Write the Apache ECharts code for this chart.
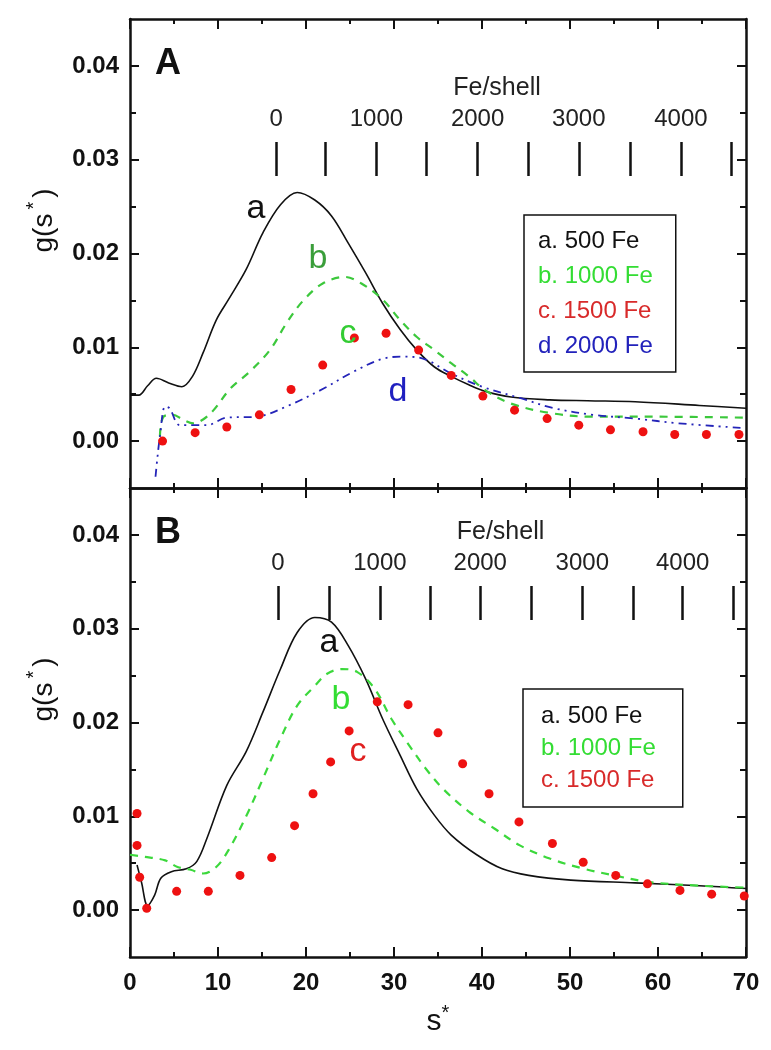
<!DOCTYPE html>
<html>
<head>
<meta charset="utf-8">
<script src="https://cdn.jsdelivr.net/npm/echarts@6/dist/echarts.min.js"></script>
<style>
html,body{margin:0;padding:0;background:#fff;}
#chart{width:771px;height:1050px;}
</style>
</head>
<body>
<div id="chart"></div>
<script>
// ---------- Data (g values in units of 0.001) ----------
// Panel A
var sA_a = [0, 1.0, 2.0, 3.0, 4.4, 5.9, 7.1, 8.3, 9.8, 11.2, 13.2, 15.1, 17.1, 19.0, 21.0, 22.9, 24.8, 26.8, 28.7, 30.7, 32.6, 34.6, 36.5, 38.5, 40.4, 43.3, 47.7, 52.0, 57.4, 64.7, 70];
var gA_a = [4.9, 4.9, 5.9, 6.7, 6.2, 5.8, 6.9, 9.4, 12.9, 15.1, 18.3, 22.2, 25.2, 26.5, 25.7, 24.0, 21.1, 17.9, 14.7, 11.9, 9.7, 7.9, 6.9, 6.0, 5.3, 4.7, 4.4, 4.3, 4.2, 3.8, 3.5];
var sA_b = [3.4, 3.8, 4.9, 6.0, 7.2, 8.3, 9.5, 11.4, 13.6, 15.9, 17.8, 19.7, 21.9, 24.4, 26.3, 28.7, 30.7, 32.6, 34.6, 36.5, 38.5, 40.4, 43.3, 47.7, 52.6, 59.9, 70];
var gA_b = [0.5, 2.6, 2.8, 2.3, 1.9, 2.3, 3.3, 5.6, 7.4, 9.7, 12.6, 15.0, 16.8, 17.5, 16.8, 15.1, 12.9, 11.1, 9.7, 8.3, 6.9, 5.4, 4.0, 3.0, 2.6, 2.6, 2.5];
var sA_c = [3.7, 7.4, 11.0, 14.7, 18.3, 21.9, 25.5, 29.1, 32.8, 36.5, 40.1, 43.7, 47.4, 51.0, 54.6, 58.3, 61.9, 65.5, 69.2];
var gA_c = [0.0, 0.9, 1.5, 2.8, 5.5, 8.1, 11.0, 11.5, 9.7, 7.0, 4.8, 3.3, 2.4, 1.7, 1.2, 1.0, 0.7, 0.7, 0.7];
var sA_d = [2.9, 3.1, 3.4, 4.0, 4.5, 5.7, 8.7, 11.0, 14.4, 17.8, 22.0, 25.4, 28.8, 31.1, 33.3, 36.5, 40.0, 44.3, 48.2, 52.6, 57.5, 62.3, 69.6];
var gA_d = [-3.8, -1.9, 0.5, 3.7, 3.5, 1.7, 1.7, 2.5, 2.6, 3.7, 5.6, 7.4, 8.8, 9.0, 8.8, 7.2, 5.8, 4.6, 3.5, 2.8, 2.4, 1.9, 1.4];
// Panel B
var sB_a = [0.8, 1.3, 2.0, 2.8, 3.5, 4.7, 6.4, 7.6, 8.8, 11.0, 13.2, 15.1, 17.1, 19.0, 21.0, 22.9, 24.8, 26.8, 28.7, 30.7, 32.6, 34.6, 36.5, 39.4, 42.3, 45.3, 50.1, 57.4, 64.7, 70];
var gB_a = [4.8, 3.0, 0.5, 1.6, 3.4, 4.1, 4.4, 5.2, 7.8, 13.3, 16.9, 21.1, 25.7, 29.6, 31.2, 30.7, 28.2, 24.6, 20.4, 16.5, 12.9, 10.1, 8.0, 5.9, 4.4, 3.7, 3.2, 2.9, 2.6, 2.3];
var sB_b = [0, 1.5, 4.0, 5.4, 6.9, 8.3, 9.8, 11.2, 13.2, 15.1, 17.1, 19.0, 21.0, 22.4, 24.1, 25.8, 27.8, 29.7, 31.7, 33.6, 35.6, 38.5, 41.4, 44.3, 47.7, 51.6, 55.0, 58.9, 64.7, 70];
var gB_b = [5.9, 5.7, 5.3, 4.6, 4.3, 3.9, 4.6, 6.4, 10.0, 14.0, 18.3, 21.8, 23.9, 25.2, 25.7, 25.4, 23.6, 20.4, 17.6, 15.1, 12.9, 10.5, 8.7, 6.9, 5.5, 4.4, 3.7, 3.0, 2.6, 2.4];
var sB_c = [0.8, 0.8, 1.1, 1.9, 5.3, 8.9, 12.5, 16.1, 18.7, 20.8, 22.8, 24.9, 28.1, 31.6, 35.0, 37.8, 40.8, 44.2, 48.0, 51.5, 55.2, 58.8, 62.5, 66.1, 69.8];
var gB_c = [10.3, 6.9, 3.5, 0.2, 2.0, 2.0, 3.7, 5.6, 9.0, 12.4, 15.8, 19.1, 22.2, 21.9, 18.9, 15.6, 12.4, 9.4, 7.1, 5.1, 3.7, 2.8, 2.1, 1.7, 1.5];

// Axis ticks / labels
var xMin = 0, xMax = 70, xInterval = 10;
var yMin = -0.005, yMax = 0.045;
var yMajor = [0, 0.01, 0.02, 0.03, 0.04];
var yMinor = [0.005, 0.015, 0.025, 0.035];
var feTicksA = [16.6, 22.2, 28.0, 33.7, 39.5, 45.2, 51.0, 56.8, 62.6, 68.3];
var feTicksB = [16.8, 22.6, 28.4, 34.1, 39.8, 45.6, 51.4, 57.2, 62.8, 68.6];
var feLabelPosA = [16.6, 28.0, 39.5, 51.0, 62.6];
var feLabelPosB = [16.8, 28.4, 39.8, 51.4, 62.8];
var feLabelText = ['0', '1000', '2000', '3000', '4000'];

var names = ['a. 500 Fe', 'b. 1000 Fe', 'c. 1500 Fe', 'd. 2000 Fe'];
var legendColors = ['#111111', '#33dd33', '#d82a2a', '#2222bb'];

function pairs(xs, ys) { return xs.map(function (x, i) { return [x, ys[i] / 1000]; }); }

var FONT = '"Liberation Sans", Arial, Helvetica, sans-serif';
var BLACK = '#111';

// ---------- Axes ----------
var xAxes = [], yAxes = [];
function addMainAxes(gi, isBottomPanel) {
  var base = { gridIndex: gi, type: 'value', min: xMin, max: xMax, interval: xInterval,
    axisLine: { show: true, onZero: false, lineStyle: { color: BLACK, width: 2.5 } },
    axisTick: { show: true, inside: true, length: 10, lineStyle: { color: BLACK, width: 2 } },
    minorTick: { show: true, splitNumber: 2, length: 5, lineStyle: { color: BLACK, width: 2 } },
    splitLine: { show: false } };
  var bottom = Object.assign({}, base, { position: 'bottom',
    axisLabel: { show: isBottomPanel, margin: 14, fontSize: 24, fontWeight: 'bold', color: BLACK, fontFamily: FONT }
  });
  if (isBottomPanel) {
    bottom.name = '{n|s}{sup|*}';
    bottom.nameLocation = 'middle';
    bottom.nameGap = 46;
    bottom.nameTextStyle = { rich: {
      n: { fontSize: 30, fontFamily: FONT, color: BLACK, verticalAlign: 'bottom', lineHeight: 34 },
      sup: { fontSize: 20, fontFamily: FONT, color: BLACK, verticalAlign: 'top', lineHeight: 34 } } };
  }
  var top = Object.assign({}, base, { position: 'top', axisLabel: { show: false } });
  xAxes.push(bottom, top);

  var yBase = { gridIndex: gi, type: 'value', min: yMin, max: yMax, splitLine: { show: false } };
  var yLeft = Object.assign({}, yBase, { position: 'left',
    axisLine: { show: true, onZero: false, lineStyle: { color: BLACK, width: 2.5 } },
    axisTick: { show: true, inside: true, length: 9, customValues: yMajor, lineStyle: { color: BLACK, width: 2 } },
    axisLabel: { show: true, customValues: yMajor, margin: 11, fontSize: 24, fontWeight: 'bold', color: BLACK, fontFamily: FONT,
      formatter: function (v) { return v.toFixed(2); } },
    name: '{n|g(s}{sup|*}{n|)}', nameLocation: 'middle', nameRotate: 90, nameGap: 72,
    nameTextStyle: { padding: [0, 0, 0, 66], rich: {
      n: { fontSize: 28, fontFamily: FONT, color: BLACK, verticalAlign: 'bottom', lineHeight: 34 },
      sup: { fontSize: 20, fontFamily: FONT, color: BLACK, verticalAlign: 'top', lineHeight: 34, padding: [0, 4, 0, 4] } } } });
  var yLeftMinor = Object.assign({}, yBase, { position: 'left', axisLine: { show: false, onZero: false },
    axisTick: { show: true, inside: true, length: 6, customValues: yMinor, lineStyle: { color: BLACK, width: 2 } },
    axisLabel: { show: false } });
  var yRight = Object.assign({}, yBase, { position: 'right',
    axisLine: { show: true, onZero: false, lineStyle: { color: BLACK, width: 2.5 } },
    axisTick: { show: true, inside: true, length: 9, customValues: yMajor, lineStyle: { color: BLACK, width: 2 } },
    axisLabel: { show: false } });
  var yRightMinor = Object.assign({}, yBase, { position: 'right', axisLine: { show: false, onZero: false },
    axisTick: { show: true, inside: true, length: 6, customValues: yMinor, lineStyle: { color: BLACK, width: 2 } },
    axisLabel: { show: false } });
  yAxes.push(yLeft, yLeftMinor, yRight, yRightMinor);
}
function addFeAxis(gi, feTicks, feLabelPos, fePad) {
  xAxes.push({ gridIndex: gi, type: 'value', min: xMin, max: xMax, position: 'top',
    axisLine: { show: false, onZero: false },
    axisTick: { show: true, inside: true, length: 34, customValues: feTicks, lineStyle: { color: BLACK, width: 2.5 } },
    axisLabel: { show: true, customValues: feLabelPos, margin: 11, fontSize: 24, color: '#222', fontFamily: FONT,
      formatter: function (v) { var i = feLabelPos.indexOf(v); return i >= 0 ? feLabelText[i] : ''; } },
    splitLine: { show: false },
    name: 'Fe/shell', nameLocation: 'middle', nameGap: 41,
    nameTextStyle: { fontSize: 25, color: '#222', fontFamily: FONT, padding: [0, 0, 0, fePad] } });
  yAxes.push({ gridIndex: gi, type: 'value', min: 0, max: 1, show: false });
}
addMainAxes(0, false);   // xAxis 0,1 ; yAxis 0-3
addMainAxes(1, true);    // xAxis 2,3 ; yAxis 4-7
addFeAxis(2, feTicksA, feLabelPosA, 118);  // xAxis 4 ; yAxis 8
addFeAxis(3, feTicksB, feLabelPosB, 125);  // xAxis 5 ; yAxis 9

// ---------- Series ----------
function lineSeries(name, data, xi, yi, color, width, type, z) {
  return { name: name, type: 'line', xAxisIndex: xi, yAxisIndex: yi, data: data, showSymbol: false, symbol: 'none',
    smooth: 0.35, color: color, lineStyle: { color: color, width: width, type: type }, z: z || 2 };
}
function dotSeries(name, data, xi, yi) {
  return { name: name, type: 'scatter', xAxisIndex: xi, yAxisIndex: yi, data: data, symbol: 'circle', symbolSize: 9,
    color: '#ee1111', itemStyle: { color: '#ee1111', opacity: 1 }, z: 3 };
}
var series = [
  lineSeries(names[0], pairs(sA_a, gA_a), 0, 0, '#111111', 1.6, 'solid'),
  lineSeries(names[1], pairs(sA_b, gA_b), 0, 0, '#3cc83c', 2.2, [8, 7]),
  dotSeries(names[2], pairs(sA_c, gA_c), 0, 0),
  lineSeries(names[3], pairs(sA_d, gA_d), 0, 0, '#2424b8', 1.8, [8, 5, 2, 5, 2, 5]),
  lineSeries(names[0], pairs(sB_a, gB_a), 2, 4, '#111111', 1.6, 'solid'),
  lineSeries(names[1], pairs(sB_b, gB_b), 2, 4, '#3cd83c', 2.2, [8, 7]),
  dotSeries(names[2], pairs(sB_c, gB_c), 2, 4)
];

function legendData(n) {
  return names.slice(0, n).map(function (nm, i) {
    return { name: nm, textStyle: { color: legendColors[i] } };
  });
}
var legendCommon = { orient: 'vertical', selectedMode: false, icon: 'rect', itemWidth: 1, itemHeight: 24,
  itemStyle: { color: 'rgba(0,0,0,0)', borderWidth: 0 }, lineStyle: { width: 0 },
  borderColor: '#111', borderWidth: 1.5, backgroundColor: '#fff',
  textStyle: { fontSize: 24, lineHeight: 24, fontFamily: FONT, padding: [0, 0, 0, 0] } };

var legends = [
  Object.assign({}, legendCommon, { left: 524, top: 215, itemGap: 11, padding: [14, 23, 14, 8], data: legendData(4) }),
  Object.assign({}, legendCommon, { left: 523, top: 689, itemGap: 8, padding: [15, 27, 15, 12], data: legendData(3) })
];

function txt(x, y, t, color, size, weight) {
  return { type: 'text', x: x, y: y, z: 100,
    style: { text: t, fill: color, fontSize: size, fontWeight: weight || 'normal', fontFamily: FONT,
      align: 'center', verticalAlign: 'middle' } };
}
var graphics = [
  txt(168, 64, 'A', BLACK, 36, 'bold'),
  txt(168, 533, 'B', BLACK, 36, 'bold'),
  txt(256, 209, 'a', BLACK, 34),
  txt(318, 259, 'b', '#3a9e3a', 34),
  txt(348, 334, 'c', '#33cc33', 34),
  txt(398, 392, 'd', '#2020c0', 34),
  txt(329, 643, 'a', BLACK, 34),
  txt(341, 700, 'b', '#33dd33', 34),
  txt(358, 752, 'c', '#e02020', 34)
];

var chart = echarts.init(document.getElementById('chart'), null, { renderer: 'canvas' });
chart.setOption({
  animation: false,
  backgroundColor: '#fff',
  grid: [
    { left: 130, right: 25, top: 19, height: 469 },
    { left: 130, right: 25, top: 488, height: 469 },
    { left: 130, right: 25, top: 142, height: 34 },
    { left: 130, right: 25, top: 586, height: 34 }
  ],
  xAxis: xAxes,
  yAxis: yAxes,
  legend: legends,
  series: series,
  graphic: graphics
});
</script>
</body>
</html>
